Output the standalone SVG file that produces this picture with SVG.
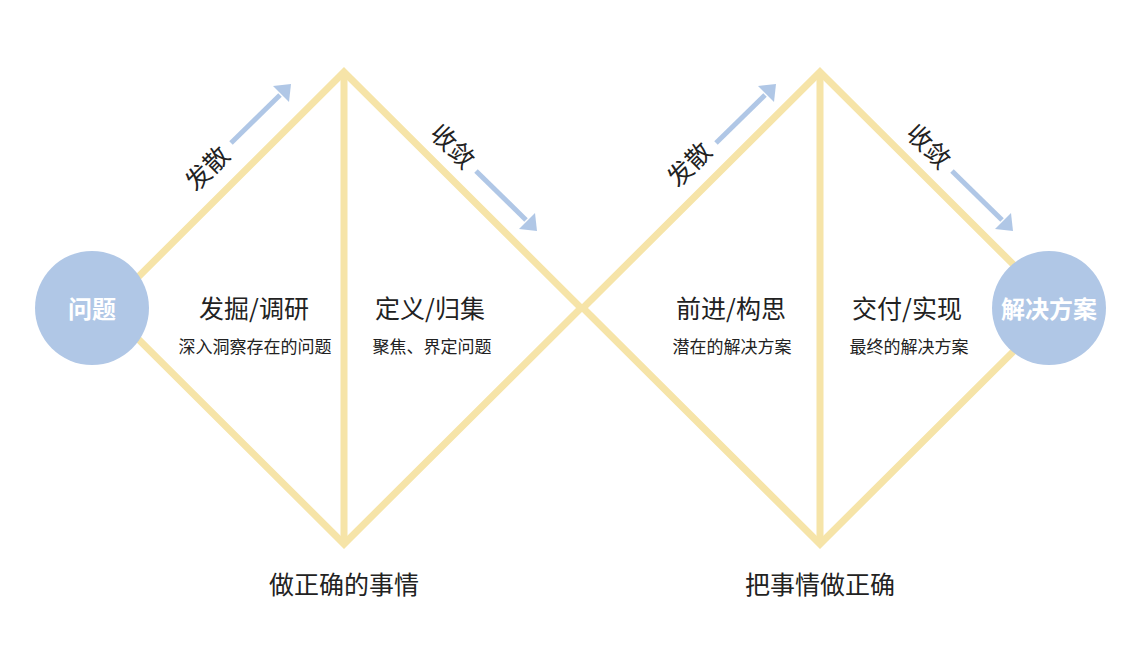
<svg xmlns="http://www.w3.org/2000/svg" width="1142" height="646" viewBox="0 0 1142 646">
<style>
.ln{fill:none;stroke:#F6E4A8;stroke-width:7;stroke-linejoin:miter}
.ar{stroke:#B0C7E6;stroke-width:5;fill:none}
.ah{fill:#B0C7E6}
.cir{fill:#B0C7E6}
text{font-family:"Noto Sans CJK SC","Noto Sans",sans-serif;fill:#222;text-anchor:middle;dominant-baseline:central}
.t1{font-size:25px}
.t2{font-size:17px}
.t3{font-size:25px}
.ct{font-size:24px;fill:#fff;font-weight:bold}
.rt{font-size:25px}
</style>
<rect width="1142" height="646" fill="#fff"/>
<g id="connectors">
<polygon class="ln" points="344,72 581,308 344,544 107,308"/>
<line class="ln" x1="344" y1="72" x2="344" y2="544"/>
<polygon class="ln" points="820,72 1057,308 820,544 583,308"/>
<line class="ln" x1="820" y1="72" x2="820" y2="544"/>
<line class="ar" x1="231" y1="143" x2="280" y2="95"/>
<polygon class="ah" points="291,84 289,102 273,86"/>
<line class="ar" x1="476" y1="171" x2="526" y2="220"/>
<polygon class="ah" points="537,231 519,229 535,213"/>
<line class="ar" x1="716" y1="143" x2="765" y2="95"/>
<polygon class="ah" points="776,84 774,102 758,86"/>
<line class="ar" x1="952" y1="171" x2="1002" y2="220"/>
<polygon class="ah" points="1013,231 995,229 1011,213"/>
</g>
<g id="label-diverge1"><text class="rt" transform="translate(206,167) rotate(-45)">发散</text></g>
<g id="label-converge1"><text class="rt" transform="translate(454,145) rotate(45)">收敛</text></g>
<g id="label-diverge2"><text class="rt" transform="translate(688,163) rotate(-45)">发散</text></g>
<g id="label-converge2"><text class="rt" transform="translate(930,145) rotate(45)">收敛</text></g>
<g id="node-problem"><circle class="cir" cx="92" cy="308" r="57"/><text class="ct" x="92" y="307">问题</text></g>
<g id="node-solution"><circle class="cir" cx="1049" cy="308" r="57"/><text class="ct" x="1049" y="307">解决方案</text></g>
<g id="stage1"><text class="t1" x="254" y="307">发掘/调研</text><text class="t2" x="255" y="345">深入洞察存在的问题</text></g>
<g id="stage2"><text class="t1" x="430" y="307">定义/归集</text><text class="t2" x="432" y="345">聚焦、界定问题</text></g>
<g id="stage3"><text class="t1" x="731" y="307">前进/构思</text><text class="t2" x="732" y="345">潜在的解决方案</text></g>
<g id="stage4"><text class="t1" x="907" y="307">交付/实现</text><text class="t2" x="909" y="345">最终的解决方案</text></g>
<g id="caption1"><text class="t3" x="344" y="583">做正确的事情</text></g>
<g id="caption2"><text class="t3" x="820" y="583">把事情做正确</text></g>
</svg>
